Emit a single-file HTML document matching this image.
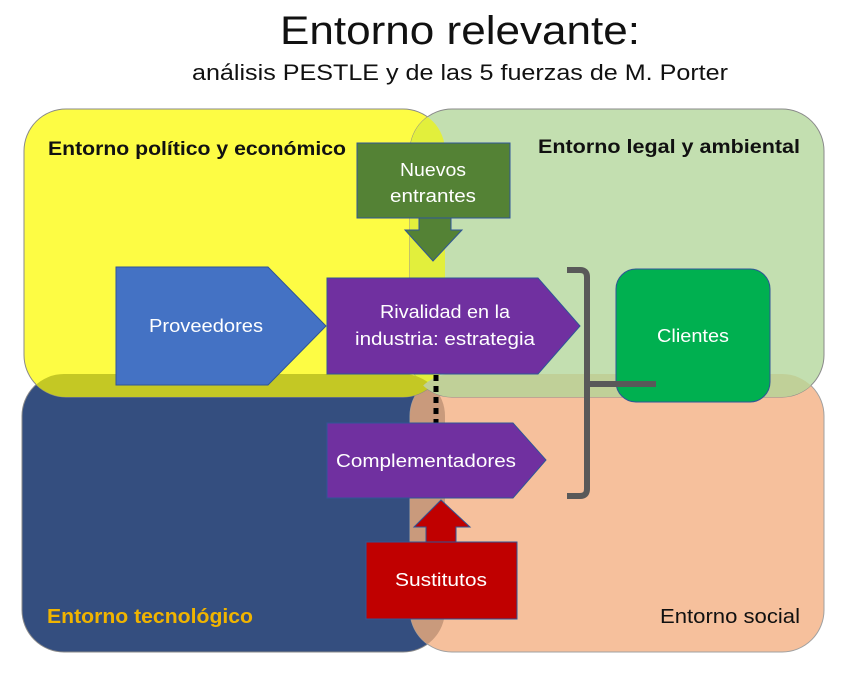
<!DOCTYPE html>
<html><head><meta charset="utf-8"><style>html,body{margin:0;padding:0;background:#fff}svg{display:block}</style></head>
<body>
<svg width="847" height="683" viewBox="0 0 847 683" xmlns="http://www.w3.org/2000/svg" font-family="Liberation Sans, sans-serif">
<defs>
<clipPath id="cY"><rect x="24" y="109" width="421" height="288" rx="42"/></clipPath>
<clipPath id="cG"><rect x="410" y="109" width="414" height="288" rx="42"/></clipPath>
<clipPath id="cN"><rect x="22" y="374" width="423" height="278" rx="42"/></clipPath>
<clipPath id="cP"><rect x="410" y="374" width="414" height="278" rx="42"/></clipPath>
</defs>
<text x="460" y="44" font-size="40" text-anchor="middle" fill="#111" textLength="360" lengthAdjust="spacingAndGlyphs">Entorno relevante:</text>
<text x="460" y="80" font-size="22" text-anchor="middle" fill="#111" textLength="536" lengthAdjust="spacingAndGlyphs">análisis PESTLE y de las 5 fuerzas de M. Porter</text>
<!-- bottom -->
<rect x="22" y="374" width="423" height="278" rx="42" fill="#344e7f" stroke="#8a8a8a" stroke-width="1"/>
<rect x="410" y="374" width="414" height="278" rx="42" fill="#f6c09c" stroke="#a0a0a0" stroke-width="1"/>
<g clip-path="url(#cN)"><rect x="410" y="374" width="414" height="278" rx="42" fill="#c99a7c"/></g>
<!-- top -->
<rect x="24" y="109" width="421" height="288" rx="42" fill="#fdfc44" stroke="#8a8a8a" stroke-width="1"/>
<rect x="410" y="109" width="414" height="288" rx="42" fill="#c3dfb0" stroke="#8a8a8a" stroke-width="1"/>
<g clip-path="url(#cY)"><rect x="410" y="109" width="414" height="288" rx="42" fill="#e2ef3c"/></g>
<g clip-path="url(#cN)"><rect x="24" y="109" width="421" height="288" rx="42" fill="#c4c824"/></g>
<g clip-path="url(#cP)"><rect x="410" y="109" width="414" height="288" rx="42" fill="#c0d098"/></g>
<!-- labels -->
<text x="48" y="155" font-size="19" font-weight="bold" fill="#111" textLength="298" lengthAdjust="spacingAndGlyphs">Entorno político y económico</text>
<text x="800" y="153" font-size="19" font-weight="bold" fill="#111" text-anchor="end" textLength="262" lengthAdjust="spacingAndGlyphs">Entorno legal y ambiental</text>
<text x="47" y="623" font-size="20" font-weight="bold" fill="#f0b400" textLength="206" lengthAdjust="spacingAndGlyphs">Entorno tecnológico</text>
<text x="800" y="623" font-size="20" fill="#111" text-anchor="end" textLength="140" lengthAdjust="spacingAndGlyphs">Entorno social</text>
<!-- nuevos entrantes -->
<rect x="357" y="143" width="153" height="75" fill="#548235" stroke="#2f5597" stroke-width="1"/>
<polygon points="419,218 451,218 451,230 462,230 433,261 405,230 419,230" fill="#548235" stroke="#2f5597" stroke-width="1"/>
<text x="433" y="176" font-size="18" fill="#fff" text-anchor="middle" textLength="66" lengthAdjust="spacingAndGlyphs">Nuevos</text>
<text x="433" y="202" font-size="18" fill="#fff" text-anchor="middle" textLength="86" lengthAdjust="spacingAndGlyphs">entrantes</text>
<!-- proveedores -->
<polygon points="116,267 268,267 326,326 268,385 116,385" fill="#4472c4" stroke="#2f5597" stroke-width="1"/>
<text x="206" y="332" font-size="18" fill="#fff" text-anchor="middle" textLength="114" lengthAdjust="spacingAndGlyphs">Proveedores</text>
<!-- rivalidad -->
<polygon points="327,278 538,278 580,326 538,374 327,374" fill="#7030a0" stroke="#2f5597" stroke-width="1"/>
<text x="445" y="318" font-size="18" fill="#fff" text-anchor="middle" textLength="130" lengthAdjust="spacingAndGlyphs">Rivalidad en la</text>
<text x="445" y="345" font-size="18" fill="#fff" text-anchor="middle" textLength="180" lengthAdjust="spacingAndGlyphs">industria: estrategia</text>
<!-- dotted -->
<line x1="436" y1="375" x2="436" y2="423" stroke="#000" stroke-width="5" stroke-dasharray="6,5"/>
<!-- complementadores -->
<polygon points="327,423 513,423 546,460 513,498 327,498" fill="#7030a0" stroke="#2f5597" stroke-width="1"/>
<text x="426" y="467" font-size="18" fill="#fff" text-anchor="middle" textLength="180" lengthAdjust="spacingAndGlyphs">Complementadores</text>
<!-- sustitutos -->
<polygon points="441,500 470,527 456,527 456,542 426,542 426,527 414,527" fill="#c00000" stroke="#2f5597" stroke-width="1"/>
<rect x="366" y="542" width="151" height="77" fill="#c00000" stroke="#2f5597" stroke-width="1"/>
<text x="441" y="586" font-size="18" fill="#fff" text-anchor="middle" textLength="92" lengthAdjust="spacingAndGlyphs">Sustitutos</text>
<!-- clientes -->
<rect x="616" y="269" width="154" height="133" rx="20" fill="#00b050" stroke="#2f5597" stroke-width="1"/>
<text x="693" y="342" font-size="18" fill="#fff" text-anchor="middle" textLength="72" lengthAdjust="spacingAndGlyphs">Clientes</text>
<!-- bracket -->
<path d="M567,270 H580 Q587,270 587,277 V489 Q587,496 580,496 H567" fill="none" stroke="#595959" stroke-width="6"/>
<line x1="587" y1="384" x2="656" y2="384" stroke="#595959" stroke-width="6"/>
</svg>
</body></html>
